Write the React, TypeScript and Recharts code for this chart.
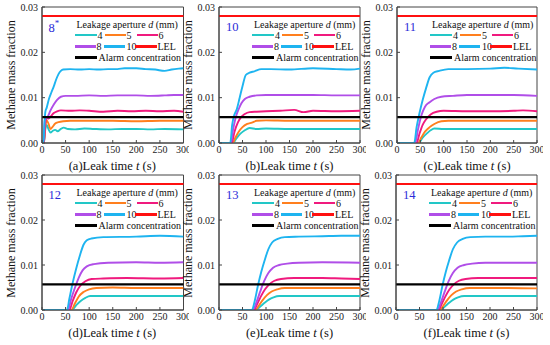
import React from "react";
import { LineChart, Line, XAxis, YAxis, ReferenceLine, ReferenceArea } from "recharts";

type Pt = [number, number];

// ---- data ----
const X_TICKS = [0, 50, 100, 150, 200, 250, 300];
const Y_TICKS = [0, 0.01, 0.02, 0.03];
const APERTURES = ["4", "5", "6", "8", "10"];
const LEL_VALUE = 0.028;
const ALARM_VALUE = 0.0057;
const PANEL_LETTERS = ["(a)", "(b)", "(c)", "(d)", "(e)", "(f)"];
const PANEL_TAGS = ["8", "10", "11", "12", "13", "14"];

const a4: Pt[] = [[0,0],[4,0],[7,0.003],[10,0.004],[14,0.003],[18,0.0023],[23,0.0027],[28,0.0029],[33,0.0026],[40,0.0031],[46,0.0034],[55,0.0031],[70,0.003],[90,0.0032],[110,0.0031],[140,0.003],[170,0.0031],[200,0.0031],[230,0.003],[260,0.0031],[300,0.003]];
const a5: Pt[] = [[0,0],[4,0],[7,0.0035],[10,0.005],[14,0.0042],[18,0.0031],[22,0.0035],[28,0.0043],[35,0.0046],[45,0.0048],[60,0.0049],[100,0.0049],[150,0.0049],[200,0.0048],[250,0.0049],[300,0.0049]];
const a6: Pt[] = [[0,0],[4,0],[7,0.0045],[10,0.0055],[14,0.0054],[18,0.0058],[25,0.0066],[32,0.007],[40,0.0072],[60,0.0071],[80,0.0072],[100,0.0071],[130,0.0069],[160,0.0071],[190,0.007],[220,0.0071],[250,0.007],[280,0.0071],[300,0.0069]];
const a8: Pt[] = [[0,0],[3,0],[6,0.005],[9,0.0055],[12,0.0058],[18,0.0072],[25,0.0085],[32,0.0095],[40,0.0102],[50,0.0104],[70,0.0104],[100,0.0105],[130,0.0104],[160,0.0105],[200,0.0105],[230,0.0104],[260,0.0105],[280,0.0106],[300,0.0106]];
const a10: Pt[] = [[0,0],[3,0],[5,0.004],[7,0.0068],[10,0.0078],[15,0.0098],[20,0.0112],[25,0.0125],[30,0.014],[35,0.0152],[40,0.0159],[45,0.0162],[60,0.0163],[80,0.0162],[100,0.0163],[120,0.0162],[140,0.0163],[160,0.0163],[175,0.0165],[200,0.0165],[220,0.0163],[240,0.0162],[260,0.0159],[275,0.0162],[290,0.0164],[300,0.0165]];

const b4: Pt[] = [[0,0],[30,0],[37,0.001],[45,0.002],[55,0.0028],[65,0.0033],[80,0.0031],[100,0.0032],[150,0.0031],[200,0.0031],[250,0.0031],[300,0.0031]];
const b5: Pt[] = [[0,0],[29,0],[35,0.0012],[42,0.0025],[50,0.0035],[60,0.0042],[70,0.0045],[80,0.0049],[100,0.005],[150,0.0049],[200,0.0049],[250,0.0049],[300,0.0049]];
const b6: Pt[] = [[0,0],[27,0],[33,0.0025],[40,0.0045],[47,0.0057],[55,0.0064],[65,0.0068],[80,0.0069],[100,0.007],[130,0.0071],[160,0.0073],[180,0.0068],[200,0.0071],[250,0.007],[300,0.0071]];
const b8: Pt[] = [[0,0],[25,0],[30,0.003],[36,0.0058],[42,0.0075],[48,0.0088],[55,0.0097],[65,0.0102],[80,0.0105],[100,0.0106],[150,0.0106],[200,0.0106],[250,0.0105],[300,0.0105]];
const b10: Pt[] = [[0,0],[24,0],[28,0.004],[32,0.006],[38,0.0075],[44,0.01],[50,0.0125],[57,0.015],[65,0.0155],[75,0.0158],[90,0.0163],[110,0.0163],[150,0.0162],[200,0.0165],[250,0.0163],[280,0.0162],[300,0.0164]];

const c4: Pt[] = [[0,0],[46,0],[55,0.0012],[65,0.0022],[72,0.0028],[80,0.0032],[100,0.0031],[150,0.0031],[200,0.0031],[300,0.0031]];
const c5: Pt[] = [[0,0],[45,0],[52,0.0012],[60,0.0025],[70,0.0035],[80,0.0042],[95,0.0048],[110,0.0049],[150,0.0049],[200,0.0049],[300,0.0049]];
const c6: Pt[] = [[0,0],[42,0],[48,0.002],[55,0.004],[62,0.0052],[72,0.0063],[85,0.0069],[100,0.0071],[150,0.007],[200,0.007],[250,0.0071],[270,0.0072],[300,0.007]];
const c8: Pt[] = [[0,0],[39,0],[45,0.003],[52,0.006],[60,0.008],[70,0.009],[80,0.0097],[95,0.0102],[120,0.0104],[150,0.0106],[200,0.0106],[250,0.0106],[300,0.0104]];
const c10: Pt[] = [[0,0],[37,0],[42,0.0035],[48,0.0065],[55,0.0095],[62,0.012],[70,0.0145],[78,0.0155],[90,0.0159],[110,0.0163],[150,0.0163],[200,0.0164],[230,0.0166],[260,0.0164],[300,0.0162]];

const d4: Pt[] = [[0,0],[63,0],[72,0.001],[82,0.002],[92,0.0027],[102,0.0031],[120,0.0031],[200,0.0031],[300,0.0031]];
const d5: Pt[] = [[0,0],[62,0],[70,0.0015],[78,0.003],[88,0.004],[100,0.0046],[115,0.0049],[150,0.005],[200,0.0049],[300,0.0049]];
const d6: Pt[] = [[0,0],[58,0],[65,0.002],[73,0.004],[82,0.0055],[92,0.0064],[105,0.0069],[130,0.007],[180,0.0071],[250,0.007],[300,0.0071]];
const d8: Pt[] = [[0,0],[55,0],[62,0.0025],[70,0.005],[78,0.0072],[86,0.0088],[95,0.0097],[110,0.0102],[140,0.0105],[200,0.0106],[250,0.0105],[300,0.0106]];
const d10: Pt[] = [[0,0],[53,0],[58,0.0025],[65,0.006],[72,0.009],[80,0.012],[88,0.0145],[95,0.0155],[105,0.0159],[130,0.0162],[200,0.0163],[250,0.0165],[300,0.0163]];

const e4: Pt[] = [[0,0],[78,0],[88,0.0008],[97,0.0016],[106,0.0023],[116,0.0028],[128,0.0031],[160,0.0031],[300,0.0031]];
const e5: Pt[] = [[0,0],[77,0],[85,0.001],[93,0.0022],[102,0.0033],[112,0.0041],[124,0.0046],[140,0.0049],[180,0.0049],[300,0.0049]];
const e6: Pt[] = [[0,0],[74,0],[82,0.0015],[90,0.0032],[98,0.0046],[107,0.0057],[118,0.0065],[132,0.0069],[160,0.0071],[220,0.0071],[260,0.007],[300,0.0069]];
const e8: Pt[] = [[0,0],[72,0],[80,0.0018],[88,0.0042],[96,0.0064],[105,0.0082],[115,0.0094],[128,0.01],[145,0.0103],[170,0.0105],[220,0.0106],[300,0.0105]];
const e10: Pt[] = [[0,0],[70,0],[76,0.002],[83,0.0055],[90,0.0085],[97,0.011],[105,0.0135],[113,0.015],[125,0.0158],[140,0.0162],[170,0.0163],[220,0.0164],[260,0.0165],[300,0.0165]];

const f4: Pt[] = [[0,0],[94,0],[104,0.0008],[113,0.0016],[122,0.0023],[132,0.0028],[145,0.0031],[180,0.0031],[300,0.0031]];
const f5: Pt[] = [[0,0],[93,0],[101,0.001],[109,0.0022],[118,0.0033],[128,0.0041],[140,0.0046],[157,0.0049],[200,0.0049],[300,0.0048]];
const f6: Pt[] = [[0,0],[90,0],[98,0.0015],[106,0.0032],[114,0.0046],[123,0.0057],[134,0.0065],[148,0.0069],[175,0.0071],[240,0.0071],[300,0.0071]];
const f8: Pt[] = [[0,0],[88,0],[96,0.0018],[104,0.0042],[112,0.0064],[121,0.0082],[131,0.0094],[145,0.01],[162,0.0103],[190,0.0105],[240,0.0105],[300,0.0105]];
const f10: Pt[] = [[0,0],[86,0],[92,0.002],[99,0.0055],[106,0.0085],[113,0.011],[121,0.0135],[130,0.015],[142,0.0158],[158,0.0162],[190,0.0163],[240,0.0163],[270,0.0164],[300,0.0165]];

const PANEL_SERIES: Pt[][][] = [
  [a4, a5, a6, a8, a10],
  [b4, b5, b6, b8, b10],
  [c4, c5, c6, c8, c10],
  [d4, d5, d6, d8, d10],
  [e4, e5, e6, e8, e10],
  [f4, f5, f6, f8, f10],
];

// ---- styles / layout ----
const COLORS = ["#22c7c7", "#ff7f1e", "#f01a7e", "#b04ee8", "#1eb4f0"];
const LEL_COLOR = "#ff1010";
const ALARM_COLOR = "#000000";
const TAG_COLOR = "#2a2ad8";
const FONT = '"Liberation Serif", "Times New Roman", Times, serif';

const LAYOUT = [
  { l: 41.5, r: 183, t: 7, b: 143 },
  { l: 219, r: 360, t: 7, b: 143 },
  { l: 397, r: 537, t: 7, b: 143 },
  { l: 41.5, r: 183, t: 175, b: 310 },
  { l: 219, r: 360, t: 175, b: 310 },
  { l: 396, r: 537, t: 175, b: 310 },
];

const YW = 45;
const XH = 22;

function LegendBox({ l, t }: { l: number; t: number }) {
  const seg = (x: number, y: number, w: number, c: string, h = 2.2) => (
    <div style={{ position: "absolute", left: x, top: y - h / 2, width: w, height: h, background: c }} />
  );
  const txt = (x: number, y: number, s: React.ReactNode) => (
    <div style={{ position: "absolute", left: x, top: y - 6.5, fontSize: 10, lineHeight: "13px", whiteSpace: "nowrap", color: "#111" }}>{s}</div>
  );
  const r0 = t + 17.5, r1 = t + 28, r2 = t + 39.5, r3 = t + 50.5;
  return (
    <>
      {txt(l + 35, r0, <>Leakage aperture <i>d</i> (mm)</>)}
      {seg(l + 33, r1, 22, COLORS[0])}{txt(l + 56, r1, APERTURES[0])}
      {seg(l + 63, r1, 21, COLORS[1])}{txt(l + 85, r1, APERTURES[1])}
      {seg(l + 95, r1, 21, COLORS[2])}{txt(l + 117, r1, APERTURES[2])}
      {seg(l + 33, r2, 21, COLORS[3])}{txt(l + 55, r2, APERTURES[3])}
      {seg(l + 62, r2, 21, COLORS[4])}{txt(l + 85, r2, APERTURES[4])}
      {seg(l + 93, r2, 22, LEL_COLOR)}{txt(l + 116, r2, "LEL")}
      {seg(l + 33, r3, 22, ALARM_COLOR)}{txt(l + 57, r3, "Alarm concentration")}
    </>
  );
}

function Panel({ idx }: { idx: number }) {
  const { l, r, t, b } = LAYOUT[idx];
  const W = r - l;
  const H = b - t;
  const chartLeft = l - YW;
  const chartTop = t - 7;
  const series = PANEL_SERIES[idx];
  return (
    <>
      <div style={{ position: "absolute", left: chartLeft, top: chartTop }}>
        <LineChart width={W + YW + 6} height={H + 7 + XH} margin={{ top: 7, right: 6, left: 0, bottom: 0 }}>
          <XAxis type="number" dataKey="t" domain={[0, 300]} ticks={X_TICKS} allowDataOverflow
            tickSize={-3} tickMargin={6} height={XH} interval={0}
            stroke="#444" tick={{ fontSize: 10, fill: "#222", fontFamily: FONT }} />
          <YAxis type="number" domain={[0, 0.03]} ticks={Y_TICKS} allowDataOverflow width={YW}
            tickSize={-3} tickMargin={7} interval={0}
            tickFormatter={(v: number) => v.toFixed(2)}
            stroke="#444" tick={{ fontSize: 10, fill: "#222", fontFamily: FONT }} />
          <ReferenceArea x1={0} x2={300} y1={0} y2={0.03} fill="none" stroke="#444" strokeWidth={1} />
          {series.map((pts, i) => (
            <Line key={i} data={pts.map(([x, v]) => ({ t: x, v }))} dataKey="v" type="monotone"
              stroke={COLORS[i]} strokeWidth={1.9} dot={false} isAnimationActive={false} />
          ))}
          <ReferenceLine y={LEL_VALUE} stroke={LEL_COLOR} strokeWidth={2} />
          <ReferenceLine y={ALARM_VALUE} stroke={ALARM_COLOR} strokeWidth={2.2} />
        </LineChart>
      </div>
      <div style={{ position: "absolute", left: l - 31, top: t + H / 2, transform: "translate(-50%, -50%) rotate(-90deg)", fontSize: 12, whiteSpace: "nowrap", color: "#111" }}>
        Methane mass fraction
      </div>
      <div style={{ position: "absolute", left: l + W / 2, top: b + 23, transform: "translate(-50%, -50%)", fontSize: 12.5, whiteSpace: "nowrap", color: "#111" }}>
        {PANEL_LETTERS[idx]}Leak time <i>t</i> (s)
      </div>
      <div style={{ position: "absolute", left: l + 7, top: t + 20, transform: "translateY(-50%)", fontSize: 12.5, color: TAG_COLOR, whiteSpace: "nowrap" }}>
        {PANEL_TAGS[idx]}{idx === 0 ? <sup style={{ fontSize: 9 }}>*</sup> : null}
      </div>
      <LegendBox l={l} t={t} />
    </>
  );
}

export default function App() {
  return (
    <div style={{ position: "absolute", left: 0, top: 0, width: 550, height: 345, background: "#fff", fontFamily: FONT, overflow: "hidden" }}>
      {[0, 1, 2, 3, 4, 5].map((i) => <Panel key={i} idx={i} />)}
    </div>
  );
}
